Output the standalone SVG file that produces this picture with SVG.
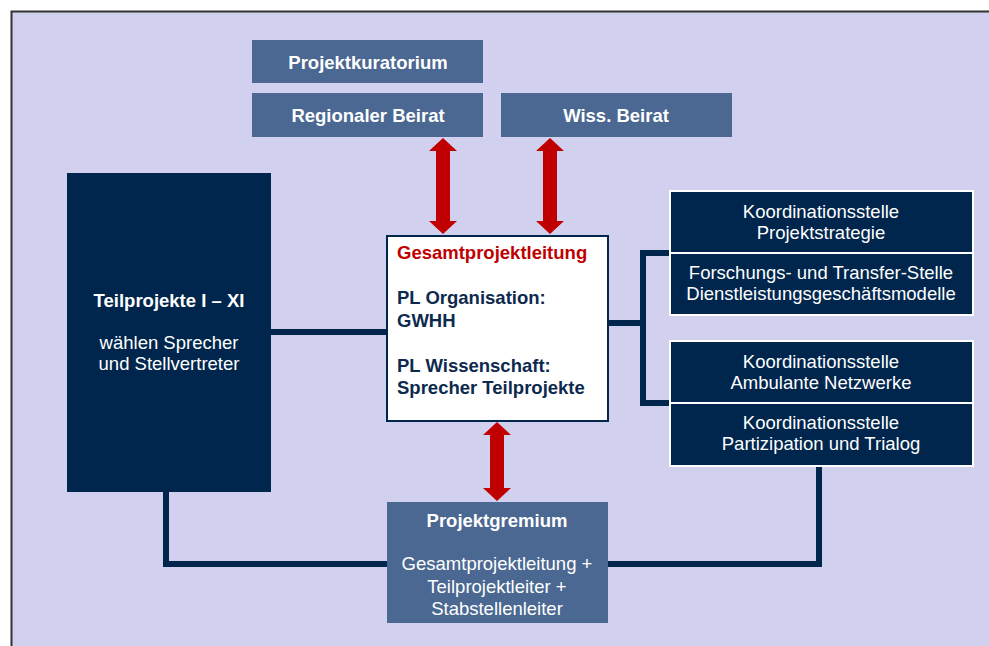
<svg xmlns="http://www.w3.org/2000/svg" width="989" height="646" viewBox="0 0 989 646">
<style>
.t{font-family:"Liberation Sans",Arial,sans-serif;font-size:18.5px}
.w{fill:#ffffff}
.b{font-weight:bold}
.c{text-anchor:middle}
.mid{fill:#4A6891}
.dark{fill:#00264D}
.ln{stroke:#00264D;stroke-width:6;fill:none}
.nv{fill:#0D2A4E}
</style>
<rect x="0" y="0" width="989" height="646" fill="#ffffff"/>
<rect x="12" y="12" width="977" height="634" fill="#D1D1EF"/>
<path d="M11.5 646 V11.5 H989" stroke="#333333" stroke-width="2" fill="none"/>

<g id="connectors">
<path class="ln" d="M271 332 H386"/>
<path class="ln" d="M609 323 H643"/>
<path class="ln" d="M670 253 H643 V403 H670"/>
<path class="ln" d="M166 492 V564 H387"/>
<path class="ln" d="M819 466 V564 H608"/>
<g fill="#C00000">
<path d="M443 138 L457 151 L450 151 L450 221 L457 221 L443 234 L429 221 L436 221 L436 151 L429 151 Z"/>
<path d="M550 138 L564 151 L557 151 L557 221 L564 221 L550 234 L536 221 L543 221 L543 151 L536 151 Z"/>
<path d="M497 422 L511 435 L504 435 L504 488 L511 488 L497 501 L483 488 L490 488 L490 435 L483 435 Z"/>
</g>
</g>

<g id="projektkuratorium">
<rect class="mid" x="252" y="40" width="231" height="43"/>
<text class="t w b c" x="368" y="69">Projektkuratorium</text>
</g>
<g id="regionaler-beirat">
<rect class="mid" x="252" y="93" width="231" height="44"/>
<text class="t w b c" x="368" y="122">Regionaler Beirat</text>
</g>
<g id="wiss-beirat">
<rect class="mid" x="501" y="93" width="231" height="44"/>
<text class="t w b c" x="616" y="122">Wiss. Beirat</text>
</g>

<g id="teilprojekte">
<rect class="dark" x="67" y="173" width="204" height="319"/>
<text class="t w b c" x="169" y="307">Teilprojekte I – XI</text>
<text class="t w c" x="169" y="349">wählen Sprecher</text>
<text class="t w c" x="169" y="370">und Stellvertreter</text>
</g>

<g id="gesamtprojektleitung">
<rect x="387" y="236" width="221" height="185" fill="#ffffff" stroke="#00264D" stroke-width="2"/>
<text class="t b" x="397" y="259" fill="#C00000">Gesamtprojektleitung</text>
<text class="t b nv" x="397" y="304">PL Organisation:</text>
<text class="t b nv" x="397" y="327">GWHH</text>
<text class="t b nv" x="397" y="372">PL Wissenschaft:</text>
<text class="t b nv" x="397" y="394">Sprecher Teilprojekte</text>
</g>

<g id="koordination-projektstrategie">
<rect class="dark" x="670" y="191" width="303" height="62" stroke="#ffffff" stroke-width="2"/>
<text class="t w c" x="821" y="218">Koordinationsstelle</text>
<text class="t w c" x="821" y="239">Projektstrategie</text>
</g>
<g id="forschung-transfer">
<rect class="dark" x="670" y="253" width="303" height="62" stroke="#ffffff" stroke-width="2"/>
<text class="t w c" x="821" y="279">Forschungs- und Transfer-Stelle</text>
<text class="t w c" x="821" y="300">Dienstleistungsgeschäftsmodelle</text>
</g>
<g id="koordination-ambulant">
<rect class="dark" x="670" y="341" width="303" height="62" stroke="#ffffff" stroke-width="2"/>
<text class="t w c" x="821" y="368">Koordinationsstelle</text>
<text class="t w c" x="821" y="389">Ambulante Netzwerke</text>
</g>
<g id="koordination-partizipation">
<rect class="dark" x="670" y="403" width="303" height="63" stroke="#ffffff" stroke-width="2"/>
<text class="t w c" x="821" y="429">Koordinationsstelle</text>
<text class="t w c" x="821" y="450">Partizipation und Trialog</text>
</g>

<g id="projektgremium">
<rect class="mid" x="387" y="502" width="221" height="121"/>
<text class="t w b c" x="497" y="527">Projektgremium</text>
<text class="t w c" x="497" y="570">Gesamtprojektleitung +</text>
<text class="t w c" x="497" y="593">Teilprojektleiter +</text>
<text class="t w c" x="497" y="615">Stabstellenleiter</text>
</g>
</svg>
